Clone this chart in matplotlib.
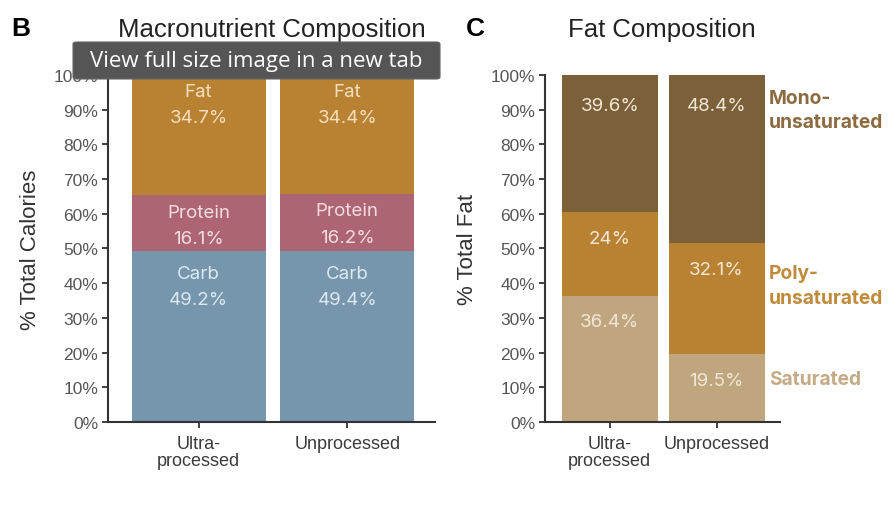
import numpy as np
import matplotlib
matplotlib.use("Agg")
import matplotlib.pyplot as plt
from matplotlib.patches import FancyBboxPatch
from matplotlib.ticker import PercentFormatter

plt.rcParams['font.family'] = ['Liberation Sans', 'DejaVu Sans']

# datos
grupos = ['Ultra-\nprocessed', 'Unprocessed']

macro_nombres = ['Carb', 'Protein', 'Fat']
carb = [49.2, 49.4]
protein = [16.1, 16.2]
fat = [34.7, 34.4]

grasa_nombres = ['Saturated', 'Poly-\nunsaturated', 'Mono-\nunsaturated']
saturated = [36.4, 19.5]
poly = [24, 32.1]
mono = [39.6, 48.4]

col_macro = ['#7596ad', '#ad6573', '#b98233']
col_grasa = ['#bfa67f', '#b98233', '#7c6039']
col_etq_grasa = ['#c4ab86', '#c18b3c', '#8c6b40']
col_txt_macro = ['#dfe8ef', '#f1dde0', '#f3dfc0']

# desplazamientos de las etiquetas (en % bajo el tope del segmento)
desp_nombre_B = [6.5, 4.8, 4.8]
desp_valor_B = [14.0, 12.4, 12.4]
desp_valor_C = [7.4, 7.6, 8.8]
desp_etq_C = [7.1, 12.3, 10.1]

fig = plt.figure(figsize=(8.96, 5.06), dpi=100)
axB = fig.add_axes([0.1205, 0.164, 0.365, 0.686])
axC = fig.add_axes([0.608, 0.164, 0.262, 0.686])

x = np.arange(len(grupos))


def estilo(ax, ylabel):
    ax.set_xlim(-0.61, 1.59)
    ax.set_ylim(0, 100)
    ax.set_yticks(np.arange(0, 101, 10))
    ax.yaxis.set_major_formatter(PercentFormatter(decimals=0))
    ax.set_xticks(x)
    ax.set_xticklabels(grupos, fontsize=13, color='#3a3a3a', linespacing=1.05)
    ax.tick_params(axis='y', labelsize=12.5, labelcolor='#555555', length=4,
                   width=1.3, color='#333333', pad=3)
    ax.tick_params(axis='x', length=4, width=1.3, color='#333333', pad=5)
    for s in ['top', 'right']:
        ax.spines[s].set_visible(False)
    for s in ['left', 'bottom']:
        ax.spines[s].set_linewidth(1.5)
        ax.spines[s].set_color('#333333')
    ax.set_ylabel(ylabel, fontsize=16, color='#333333', labelpad=9)


# Panel B
series = [carb, protein, fat]
base = np.zeros(len(grupos))
for k, (nombre, vals, col, ctxt) in enumerate(zip(macro_nombres, series, col_macro, col_txt_macro)):
    vals = np.array(vals)
    axB.bar(x, vals, 0.9, bottom=base, color=col, linewidth=0)
    tope = base + vals
    for i in range(len(grupos)):
        axB.text(x[i], tope[i] - desp_nombre_B[k], nombre, ha='center', va='center',
                 fontsize=13.5, color=ctxt, family='Inter')
        axB.text(x[i], tope[i] - desp_valor_B[k], f'{vals[i]:g}%', ha='center',
                 va='center', fontsize=13.5, color=ctxt, family='Inter')
    base = tope
estilo(axB, '% Total Calories')
axB.set_title('Macronutrient Composition', fontsize=18.5, color='#222222', pad=28)

# Panel C
series = [saturated, poly, mono]
base = np.zeros(len(grupos))
for k, (nombre, vals, col, cl) in enumerate(zip(grasa_nombres, series, col_grasa, col_etq_grasa)):
    vals = np.array(vals)
    axC.bar(x, vals, 0.9, bottom=base, color=col, linewidth=0)
    tope = base + vals
    for i in range(len(grupos)):
        axC.text(x[i], tope[i] - desp_valor_C[k], f'{vals[i]:g}%', ha='center',
                 va='center', fontsize=13.5, color='#f1e7d8', family='Inter')
    axC.text(1.49, tope[-1] - desp_etq_C[k], nombre, ha='left', va='center',
             fontsize=13.8, color=cl, fontweight='bold', family='Inter',
             clip_on=False, linespacing=1.45)
    base = tope
estilo(axC, '% Total Fat')
axC.set_title('Fat Composition', fontsize=18.5, color='#222222', pad=28)

# letras de panel
fig.text(11 / 896, 1 - 29 / 506, 'B', fontsize=19, fontweight='bold', va='center')
fig.text(466 / 896, 1 - 29 / 506, 'C', fontsize=19, fontweight='bold', va='center')

# tooltip del navegador
x0, y0, x1, y1 = 73 / 896, 1 - 80 / 506, 440 / 896, 1 - 43 / 506
caja = FancyBboxPatch((x0, y0), x1 - x0, y1 - y0, transform=fig.transFigure,
                      boxstyle='round,pad=0,rounding_size=0.004',
                      facecolor='#555555', edgecolor='#666666', linewidth=0.8,
                      zorder=10)
fig.patches.append(caja)
fig.text((x0 + x1) / 2, (y0 + y1) / 2, 'View full size image in a new tab',
         ha='center', va='center', fontsize=16, color='white', family='Open Sans',
         zorder=11)

fig.savefig('out.png', dpi=100)
